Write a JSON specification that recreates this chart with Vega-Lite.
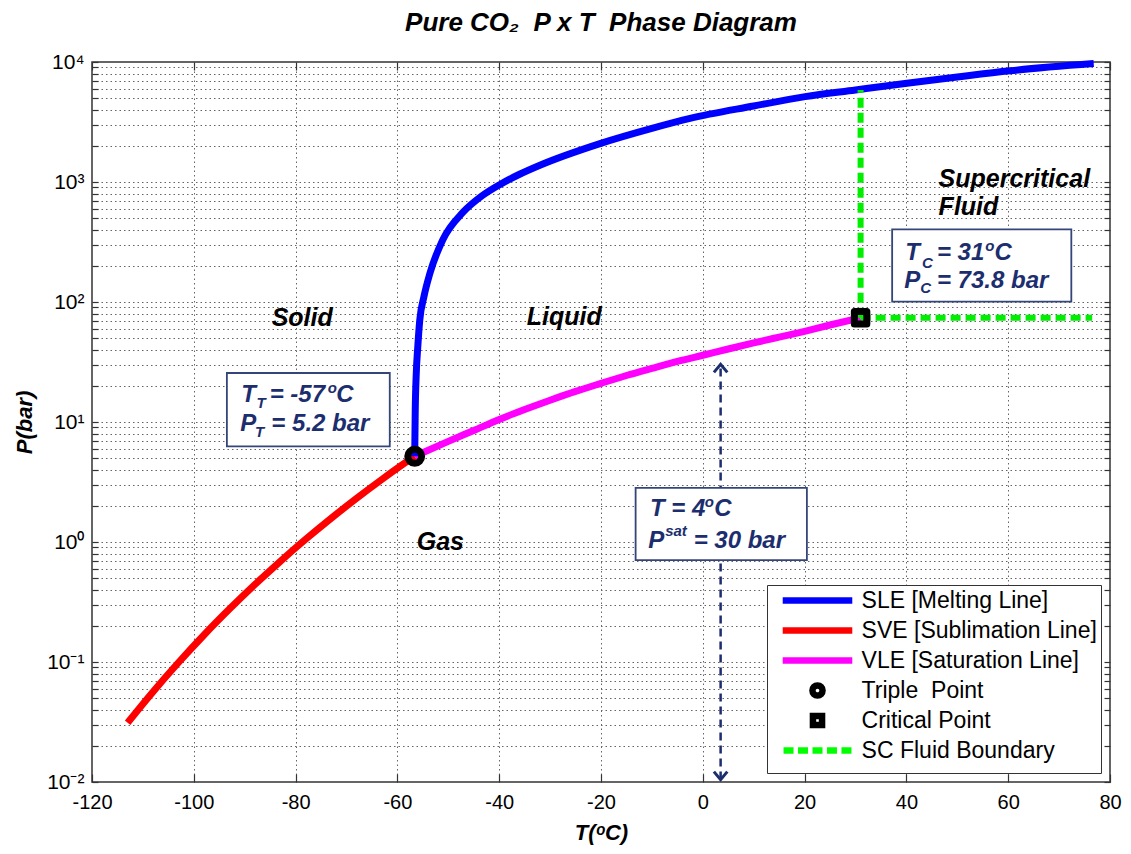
{
  "$schema": "https://vega.github.io/schema/vega-lite/v6.json",
  "width": 1018,
  "height": 720,
  "autosize": {"type": "none"},
  "padding": {"left": 92, "top": 62, "right": 21, "bottom": 72},
  "background": "white",
  "title": {"text": "Pure CO₂\u00a0\u00a0P x T\u00a0\u00a0Phase Diagram", "font": "Liberation Sans", "fontSize": 26, "fontWeight": "bold", "fontStyle": "italic", "color": "black", "anchor": "middle", "offset": 25, "dy": 36, "baseline": "bottom"},
  "config": {"view": {"stroke": "#333", "strokeWidth": 1.5}, "font": "Liberation Sans"},
  "datasets": {
    "curves": [
      {"series": "SVE [Sublimation Line]", "T": -113, "P": 0.0312},
      {"series": "SVE [Sublimation Line]", "T": -108, "P": 0.0566},
      {"series": "SVE [Sublimation Line]", "T": -103, "P": 0.099},
      {"series": "SVE [Sublimation Line]", "T": -98, "P": 0.168},
      {"series": "SVE [Sublimation Line]", "T": -93, "P": 0.276},
      {"series": "SVE [Sublimation Line]", "T": -88, "P": 0.442},
      {"series": "SVE [Sublimation Line]", "T": -83, "P": 0.691},
      {"series": "SVE [Sublimation Line]", "T": -78, "P": 1.056},
      {"series": "SVE [Sublimation Line]", "T": -73, "P": 1.578},
      {"series": "SVE [Sublimation Line]", "T": -68, "P": 2.315},
      {"series": "SVE [Sublimation Line]", "T": -63, "P": 3.334},
      {"series": "SVE [Sublimation Line]", "T": -59.5, "P": 4.26},
      {"series": "SVE [Sublimation Line]", "T": -56.6, "P": 5.18},
      {"series": "VLE [Saturation Line]", "T": -56.6, "P": 5.18},
      {"series": "VLE [Saturation Line]", "T": -50, "P": 6.9},
      {"series": "VLE [Saturation Line]", "T": -45, "P": 8.5},
      {"series": "VLE [Saturation Line]", "T": -40, "P": 10.5},
      {"series": "VLE [Saturation Line]", "T": -35, "P": 12.7},
      {"series": "VLE [Saturation Line]", "T": -30, "P": 15.2},
      {"series": "VLE [Saturation Line]", "T": -25, "P": 18},
      {"series": "VLE [Saturation Line]", "T": -20, "P": 21},
      {"series": "VLE [Saturation Line]", "T": -15, "P": 24.4},
      {"series": "VLE [Saturation Line]", "T": -10, "P": 28},
      {"series": "VLE [Saturation Line]", "T": -5, "P": 32},
      {"series": "VLE [Saturation Line]", "T": 0, "P": 36},
      {"series": "VLE [Saturation Line]", "T": 5, "P": 40.6},
      {"series": "VLE [Saturation Line]", "T": 10, "P": 45.6},
      {"series": "VLE [Saturation Line]", "T": 15, "P": 51},
      {"series": "VLE [Saturation Line]", "T": 20, "P": 57},
      {"series": "VLE [Saturation Line]", "T": 25, "P": 64.3},
      {"series": "VLE [Saturation Line]", "T": 31, "P": 73.8},
      {"series": "SLE [Melting Line]", "T": -56.6, "P": 5.18},
      {"series": "SLE [Melting Line]", "T": -56.5, "P": 12},
      {"series": "SLE [Melting Line]", "T": -56.3, "P": 25},
      {"series": "SLE [Melting Line]", "T": -56.0, "P": 42},
      {"series": "SLE [Melting Line]", "T": -55.6, "P": 71},
      {"series": "SLE [Melting Line]", "T": -54.8, "P": 110},
      {"series": "SLE [Melting Line]", "T": -53.6, "P": 174},
      {"series": "SLE [Melting Line]", "T": -51.1, "P": 329},
      {"series": "SLE [Melting Line]", "T": -47.1, "P": 560},
      {"series": "SLE [Melting Line]", "T": -43.5, "P": 760},
      {"series": "SLE [Melting Line]", "T": -39.9, "P": 950},
      {"series": "SLE [Melting Line]", "T": -36, "P": 1160},
      {"series": "SLE [Melting Line]", "T": -32, "P": 1380},
      {"series": "SLE [Melting Line]", "T": -20.2, "P": 2090},
      {"series": "SLE [Melting Line]", "T": -10, "P": 2800},
      {"series": "SLE [Melting Line]", "T": -2.5, "P": 3390},
      {"series": "SLE [Melting Line]", "T": 10, "P": 4300},
      {"series": "SLE [Melting Line]", "T": 20.1, "P": 5150},
      {"series": "SLE [Melting Line]", "T": 30, "P": 5850},
      {"series": "SLE [Melting Line]", "T": 40.1, "P": 6650},
      {"series": "SLE [Melting Line]", "T": 50, "P": 7500},
      {"series": "SLE [Melting Line]", "T": 60.4, "P": 8450},
      {"series": "SLE [Melting Line]", "T": 76.8, "P": 9700}
    ],
    "boundary": [
      {"T": 31, "T2": 31, "P": 73.8, "P2": 5850},
      {"T": 31, "T2": 76.5, "P": 73.8, "P2": 73.8}
    ],
    "arrow": [
      {"T": 3.5, "P": 0.0105, "P2": 30}
    ],
    "heads": [
      {"T": 3.5, "P": 28, "dir": "up"},
      {"T": 3.5, "P": 0.0113, "dir": "down"}
    ],
    "boxes": [
      {"T1": -93.5, "T2": -61.5, "P1": 6.27, "P2": 25.6},
      {"T1": -13.2, "T2": 20.45, "P1": 0.706, "P2": 2.83},
      {"T1": 37.2, "T2": 72.4, "P1": 100.7, "P2": 403}
    ],
    "points": [
      {"series": "Triple\u00a0 Point", "T": -56.6, "P": 5.18},
      {"series": "Critical Point", "T": 31, "P": 73.8}
    ],
    "labels": [
      {"kind": "ann", "T": -90.66, "P": 14.8, "text": "T"},
      {"kind": "ann", "T": -85.1, "P": 14.8, "text": "= -57"},
      {"kind": "ann", "T": -72.0, "P": 14.8, "text": "C"},
      {"kind": "ann", "T": -90.86, "P": 8.35, "text": "P"},
      {"kind": "ann", "T": -84.76, "P": 8.35, "text": "= 5.2 bar"},
      {"kind": "sub", "T": -87.7, "P": 13.15, "text": "T"},
      {"kind": "sub", "T": -88.0, "P": 7.55, "text": "T"},
      {"kind": "sup", "T": -73.7, "P": 17.5, "text": "o"},
      {"kind": "ann", "T": -10.37, "P": 1.64, "text": "T = 4"},
      {"kind": "sup", "T": 0.4, "P": 1.94, "text": "o"},
      {"kind": "ann", "T": 2.23, "P": 1.64, "text": "C"},
      {"kind": "ann", "T": -10.7, "P": 0.895, "text": "P"},
      {"kind": "sup", "T": -7.4, "P": 1.13, "text": "sat"},
      {"kind": "ann", "T": -1.8, "P": 0.895, "text": "= 30 bar"},
      {"kind": "ann", "T": 39.78, "P": 224, "text": "T"},
      {"kind": "sub", "T": 43.07, "P": 191, "text": "C"},
      {"kind": "ann", "T": 46.0, "P": 224, "text": "= 31"},
      {"kind": "sup", "T": 55.5, "P": 265, "text": "o"},
      {"kind": "ann", "T": 57.3, "P": 224, "text": "C"},
      {"kind": "ann", "T": 39.58, "P": 130, "text": "P"},
      {"kind": "sub", "T": 42.73, "P": 119, "text": "C"},
      {"kind": "ann", "T": 46.0, "P": 130, "text": "= 73.8 bar"},
      {"kind": "region", "T": 46.33, "P": 912, "text": "Supercritical"},
      {"kind": "region", "T": 46.33, "P": 531, "text": "Fluid"},
      {"kind": "region", "T": -34.6, "P": 64.5, "text": "Liquid"},
      {"kind": "region", "T": -84.7, "P": 63, "text": "Solid"},
      {"kind": "region", "T": -56.2, "P": 0.85, "text": "Gas"}
    ]
  },
  "layer": [
    {
      "data": {"name": "curves"},
      "mark": {"type": "line", "strokeWidth": 7, "strokeJoin": "round", "interpolate": "monotone"},
      "encoding": {
        "x": {"field": "T", "type": "quantitative",
          "scale": {"domain": [-120, 80], "nice": false, "zero": false},
          "axis": {"orient": "bottom", "values": [-120, -100, -80, -60, -40, -20, 0, 20, 40, 60, 80],
            "grid": true, "gridDash": [1.5, 3], "gridColor": "#666", "gridWidth": 1,
            "domain": false, "ticks": true, "tickSize": -8, "tickColor": "#333", "tickWidth": 1.2,
            "labelExpr": "'' + datum.value", "labelFont": "Liberation Sans", "labelFontSize": 20, "labelColor": "black",
            "labelPadding": 18, "labelFlush": false, "labelOverlap": false,
            "title": "T(ᵒC)", "titleFont": "Liberation Sans", "titleFontSize": 22, "titleFontWeight": "bold", "titleFontStyle": "italic", "titleColor": "black", "titlePadding": 10}},
        "y": {"field": "P", "type": "quantitative",
          "scale": {"type": "log", "domain": [0.01, 10000], "nice": false},
          "axis": {"orient": "left",
            "values": [0.01,0.02,0.03,0.04,0.05,0.06,0.07,0.08,0.09,0.1,0.2,0.3,0.4,0.5,0.6,0.7,0.8,0.9,1,2,3,4,5,6,7,8,9,10,20,30,40,50,60,70,80,90,100,200,300,400,500,600,700,800,900,1000,2000,3000,4000,5000,6000,7000,8000,9000,10000],
            "grid": true, "gridDash": [1.5, 3], "gridColor": "#666", "gridWidth": 1,
            "domain": false, "ticks": true, "tickSize": -6, "tickColor": "#333", "tickWidth": 1.2,
            "labelExpr": "datum.value == 10000 ? '10⁴' : datum.value == 1000 ? '10³' : datum.value == 100 ? '10²' : datum.value == 10 ? '10¹' : datum.value == 1 ? '10⁰' : datum.value == 0.1 ? '10⁻¹' : datum.value == 0.01 ? '10⁻²' : ''",
            "labelFont": "Liberation Sans", "labelFontSize": 21, "labelColor": "black", "labelPadding": 14, "labelOverlap": false, "labelFlush": false,
            "title": "P(bar)", "titleFont": "Liberation Sans", "titleFontSize": 22, "titleFontWeight": "bold", "titleFontStyle": "italic", "titleColor": "black", "titlePadding": 10}},
        "stroke": {"field": "series", "type": "nominal",
          "scale": {"domain": ["SLE [Melting Line]", "SVE [Sublimation Line]", "VLE [Saturation Line]"],
                    "range": ["#0000ff", "#ff0000", "#ff00ff"]},
          "legend": null}
      }
    },
    {
      "data": {"name": "boundary"},
      "mark": {"type": "rule", "stroke": "#00ee00", "strokeWidth": 6, "strokeDash": [10, 5]},
      "encoding": {
        "x": {"field": "T", "type": "quantitative", "axis": null},
        "x2": {"field": "T2"},
        "y": {"field": "P", "type": "quantitative", "axis": null},
        "y2": {"field": "P2"}
      }
    },
    {
      "data": {"name": "arrow"},
      "mark": {"type": "rule", "stroke": "#1c2e6e", "strokeWidth": 2.5, "strokeDash": [8, 5]},
      "encoding": {
        "x": {"field": "T", "type": "quantitative", "axis": null},
        "y": {"field": "P", "type": "quantitative", "axis": null},
        "y2": {"field": "P2"}
      }
    },
    {
      "data": {"name": "heads"},
      "transform": [{"filter": "datum.dir == 'up'"}],
      "mark": {"type": "point", "shape": "M-1,0.6L0,-0.6L1,0.6", "filled": false, "stroke": "#1c2e6e", "strokeWidth": 3, "size": 180, "opacity": 1},
      "encoding": {
        "x": {"field": "T", "type": "quantitative", "axis": null},
        "y": {"field": "P", "type": "quantitative", "axis": null}
      }
    },
    {
      "data": {"name": "heads"},
      "transform": [{"filter": "datum.dir == 'down'"}],
      "mark": {"type": "point", "shape": "M-1,-0.6L0,0.6L1,-0.6", "filled": false, "stroke": "#1c2e6e", "strokeWidth": 3, "size": 180, "opacity": 1},
      "encoding": {
        "x": {"field": "T", "type": "quantitative", "axis": null},
        "y": {"field": "P", "type": "quantitative", "axis": null}
      }
    },
    {
      "data": {"name": "boxes"},
      "mark": {"type": "rect", "fill": "white", "stroke": "#34457a", "strokeWidth": 1.8},
      "encoding": {
        "x": {"field": "T1", "type": "quantitative", "axis": null},
        "x2": {"field": "T2"},
        "y": {"field": "P1", "type": "quantitative", "axis": null},
        "y2": {"field": "P2"}
      }
    },
    {
      "data": {"name": "points"},
      "mark": {"type": "point", "filled": false, "strokeWidth": 7, "size": 300, "opacity": 1, "strokeJoin": "round"},
      "encoding": {
        "x": {"field": "T", "type": "quantitative",
          "axis": {"orient": "top", "values": [-120, -100, -80, -60, -40, -20, 0, 20, 40, 60, 80], "labels": false, "grid": false, "domain": false, "ticks": true, "tickSize": -8, "tickColor": "#333", "tickWidth": 1.2, "title": null}},
        "y": {"field": "P", "type": "quantitative",
          "axis": {"orient": "right",
            "values": [0.01,0.02,0.03,0.04,0.05,0.06,0.07,0.08,0.09,0.1,0.2,0.3,0.4,0.5,0.6,0.7,0.8,0.9,1,2,3,4,5,6,7,8,9,10,20,30,40,50,60,70,80,90,100,200,300,400,500,600,700,800,900,1000,2000,3000,4000,5000,6000,7000,8000,9000,10000],
            "labels": false, "grid": false, "domain": false, "ticks": true, "tickSize": -6, "tickColor": "#333", "tickWidth": 1.2, "title": null}},
        "color": {"field": "series", "type": "nominal",
          "scale": {"domain": ["SLE [Melting Line]", "SVE [Sublimation Line]", "VLE [Saturation Line]", "Triple\u00a0 Point", "Critical Point", "SC Fluid Boundary"],
                    "range": ["#0000ff", "#ff0000", "#ff00ff", "#000000", "#000000", "#00ff00"]},
          "legend": {"title": null, "orient": "bottom-right", "offset": 9, "padding": 4, "fillColor": "white", "strokeColor": "#333", "labelFont": "Liberation Sans", "labelFontSize": 23, "labelColor": "black", "labelLimit": 400, "symbolSize": 160, "symbolStrokeWidth": 6.5, "symbolOffset": 35, "labelOffset": 32.6, "rowPadding": -12}},
        "shape": {"field": "series", "type": "nominal",
          "scale": {"domain": ["SLE [Melting Line]", "SVE [Sublimation Line]", "VLE [Saturation Line]", "Triple\u00a0 Point", "Critical Point", "SC Fluid Boundary"],
                    "range": ["M-5.5,0H5.5M0,-0.8M0,0.8", "M-5.5,0H5.5M0,-0.8M0,0.8", "M-5.5,0H5.5M0,-0.8M0,0.8", "M0.8,0A0.8,0.8 0 1,1 -0.8,0A0.8,0.8 0 1,1 0.8,0Z", "M-0.72,-0.72H0.72V0.72H-0.72ZM0,-0.8M0,0.8", "M-5.37,0h1.58M-3.08,0h1.58M-0.79,0h1.58M1.5,0h1.58M3.79,0h1.58M0,-0.8M0,0.8"]},
          "legend": {"title": null, "orient": "bottom-right", "offset": 9, "padding": 4, "fillColor": "white", "strokeColor": "#333", "labelFont": "Liberation Sans", "labelFontSize": 23, "labelColor": "black", "labelLimit": 400, "symbolSize": 160, "symbolStrokeWidth": 6.5, "symbolOffset": 35, "labelOffset": 32.6, "rowPadding": -12}}
      }
    },
    {
      "data": {"name": "labels"},
      "transform": [{"filter": "datum.kind == 'ann'"}],
      "mark": {"type": "text", "align": "left", "baseline": "alphabetic", "font": "Liberation Sans", "fontSize": 24, "fontWeight": "bold", "fontStyle": "italic", "color": "#1c2e6e"},
      "encoding": {
        "x": {"field": "T", "type": "quantitative", "axis": null},
        "y": {"field": "P", "type": "quantitative", "axis": null},
        "text": {"field": "text"}
      }
    },
    {
      "data": {"name": "labels"},
      "transform": [{"filter": "datum.kind == 'sub' || datum.kind == 'sup'"}],
      "mark": {"type": "text", "align": "left", "baseline": "alphabetic", "font": "Liberation Sans", "fontSize": 15, "fontWeight": "bold", "fontStyle": "italic", "color": "#1c2e6e"},
      "encoding": {
        "x": {"field": "T", "type": "quantitative", "axis": null},
        "y": {"field": "P", "type": "quantitative", "axis": null},
        "text": {"field": "text"}
      }
    },
    {
      "data": {"name": "labels"},
      "transform": [{"filter": "datum.kind == 'region'"}],
      "mark": {"type": "text", "align": "left", "baseline": "alphabetic", "font": "Liberation Sans", "fontSize": 25, "fontWeight": "bold", "fontStyle": "italic", "color": "black"},
      "encoding": {
        "x": {"field": "T", "type": "quantitative", "axis": null},
        "y": {"field": "P", "type": "quantitative", "axis": null},
        "text": {"field": "text"}
      }
    }
  ],
  "resolve": {"axis": {"x": "independent", "y": "independent"}}
}
